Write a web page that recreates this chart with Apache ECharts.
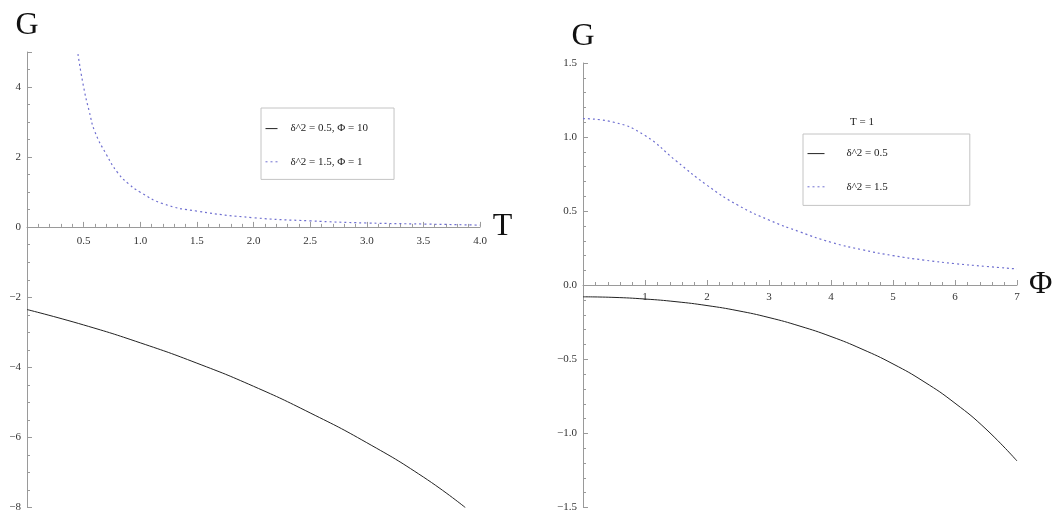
<!DOCTYPE html>
<html>
<head>
<meta charset="utf-8">
<script src="https://cdn.jsdelivr.net/npm/echarts@6/dist/echarts.min.js"></script>
<style>
  html, body { margin: 0; padding: 0; background: #fff; }
  #chart { width: 1063px; height: 513px; }
</style>
</head>
<body>
<div id="chart"></div>
<script>
// — panneau gauche : G(T) —
const leftDotT = [0.45, 0.5, 0.55, 0.6, 0.7, 0.8, 0.9, 1.0, 1.2, 1.5, 2.0, 2.5, 3.0, 3.5, 4.0];
const leftDotG = [4.94, 4.0, 3.3, 2.72, 2.08, 1.56, 1.23, 1.0, 0.67, 0.46, 0.27, 0.18, 0.12, 0.09, 0.06];
const leftSolT = [0, 0.5, 1.0, 1.5, 2.0, 2.5, 3.0, 3.5, 3.87];
const leftSolG = [-2.35, -2.79, -3.3, -3.88, -4.54, -5.3, -6.15, -7.13, -8.0];
const leftNames = ["δ^2 = 0.5, Φ = 10", "δ^2 = 1.5, Φ = 1"];

// — panneau droit : G(Φ), T = 1 —
const rightDotPhi = [0, 0.5, 1, 1.5, 2, 2.5, 3, 3.5, 4, 4.5, 5, 5.5, 6, 6.5, 7];
const rightDotG = [1.125, 1.10, 1.01, 0.84, 0.675, 0.54, 0.44, 0.36, 0.29, 0.24, 0.2, 0.17, 0.146, 0.127, 0.11];
const rightSolPhi = [0, 0.5, 1, 1.5, 2, 2.5, 3, 3.5, 4, 4.5, 5, 5.5, 6, 6.5, 7];
const rightSolG = [-0.078, -0.082, -0.093, -0.111, -0.137, -0.172, -0.218, -0.276, -0.346, -0.431, -0.531, -0.651, -0.796, -0.971, -1.186];
const rightNames = ["δ^2 = 0.5", "δ^2 = 1.5"];

const SERIF = "'Liberation Serif', 'DejaVu Serif', serif";
const AXIS = "#9a9a9a";
const DOT = "#6f6fd0";
const minus = (s) => String(s).replace("-", "\u2212");
const zip = (xs, ys) => xs.map((x, i) => [x, ys[i]]);

// l'axe horizontal est posé sur G = 0 (offset négatif depuis le bas de la grille)
function xAxis(grid, max, interval, split, name, gap, offset, margin, namePad) {
  return {
    type: "value", gridIndex: grid, min: 0, max: max, interval: interval,
    position: "bottom", offset: offset,
    name: name, nameLocation: "end", nameGap: gap,
    nameTextStyle: { fontFamily: SERIF, fontSize: 32, color: "#111",
                     verticalAlign: "middle", padding: namePad },
    axisLine: { onZero: false, lineStyle: { color: AXIS, width: 1 } },
    axisTick: { inside: true, length: 5, lineStyle: { color: AXIS } },
    minorTick: { show: true, splitNumber: split, length: 3, lineStyle: { color: AXIS } },
    splitLine: { show: false },
    axisLabel: { margin: margin, fontFamily: SERIF, fontSize: 11, color: "#333",
                 formatter: (v) => (v === 0 ? "" : (interval < 1 ? v.toFixed(1) : String(v))) },
  };
}

function yAxis(grid, min, max, interval, split, fmt, gap, showMax) {
  return {
    type: "value", gridIndex: grid, min: min, max: max, interval: interval,
    name: "G", nameLocation: "end", nameGap: gap,
    nameTextStyle: { fontFamily: SERIF, fontSize: 32, color: "#111" },
    axisLine: { onZero: false, lineStyle: { color: AXIS, width: 1 } },
    axisTick: { inside: true, length: 5, lineStyle: { color: AXIS } },
    minorTick: { show: true, splitNumber: split, length: 3, lineStyle: { color: AXIS } },
    splitLine: { show: false },
    axisLabel: { margin: 6, fontFamily: SERIF, fontSize: 11, color: "#333",
                 showMaxLabel: showMax, formatter: (v) => minus(fmt(v)) },
  };
}

const chart = echarts.init(document.getElementById("chart"), null, { renderer: "canvas" });

chart.setOption({
  animation: false,
  grid: [
    { left: 27, top: 52, width: 453, height: 456 },
    { left: 583, top: 63, width: 434, height: 445 },
  ],
  xAxis: [
    xAxis(0, 4, 0.5, 5, "T", 5, -280.6, 9, [8, 0, 0, 0]),
    xAxis(1, 7, 1, 5, "Φ", 12, -222.5, 7, [4, 0, 0, 0]),
  ],
  yAxis: [
    yAxis(0, -8, 5, 2, 4, (v) => String(v), 10, false),
    yAxis(1, -1.5, 1.5, 0.5, 5, (v) => v.toFixed(1), 10, true),
  ],
  legend: [
    { data: leftNames, orient: "vertical", left: 261, top: 108,
      borderColor: "#c4c4c4", borderWidth: 1, padding: [15, 26, 12, 4],
      itemWidth: 12, itemHeight: 14, itemGap: 22, selectedMode: false,
      itemStyle: { opacity: 0 }, lineStyle: { width: 1 },
      textStyle: { fontFamily: SERIF, fontSize: 11, color: "#222", padding: [0, 0, 0, 8] } },
    { data: rightNames, orient: "vertical", left: 803, top: 134,
      borderColor: "#c4c4c4", borderWidth: 1, padding: [14, 82, 13, 4],
      itemWidth: 17, itemHeight: 14, itemGap: 22, selectedMode: false,
      itemStyle: { opacity: 0 }, lineStyle: { width: 1 },
      textStyle: { fontFamily: SERIF, fontSize: 11, color: "#222", padding: [0, 0, 0, 17] } },
  ],
  graphic: [
    { type: "text", left: 850, top: 117,
      style: { text: "T = 1", font: "11px " + SERIF, fill: "#222" } },
  ],
  series: [
    { name: leftNames[0], type: "line", xAxisIndex: 0, yAxisIndex: 0, smooth: true,
      symbol: "none", data: zip(leftSolT, leftSolG),
      lineStyle: { color: "#222", width: 1 }, itemStyle: { color: "#222" } },
    { name: leftNames[1], type: "line", xAxisIndex: 0, yAxisIndex: 0, smooth: true,
      symbol: "none", data: zip(leftDotT, leftDotG),
      lineStyle: { color: DOT, width: 1.2, type: [2, 3] }, itemStyle: { color: DOT } },
    { name: rightNames[0], type: "line", xAxisIndex: 1, yAxisIndex: 1, smooth: true,
      symbol: "none", data: zip(rightSolPhi, rightSolG),
      lineStyle: { color: "#222", width: 1 }, itemStyle: { color: "#222" } },
    { name: rightNames[1], type: "line", xAxisIndex: 1, yAxisIndex: 1, smooth: true,
      symbol: "none", data: zip(rightDotPhi, rightDotG),
      lineStyle: { color: DOT, width: 1.2, type: [2, 3] }, itemStyle: { color: DOT } },
  ],
});

window.addEventListener("resize", () => chart.resize());
</script>
</body>
</html>
